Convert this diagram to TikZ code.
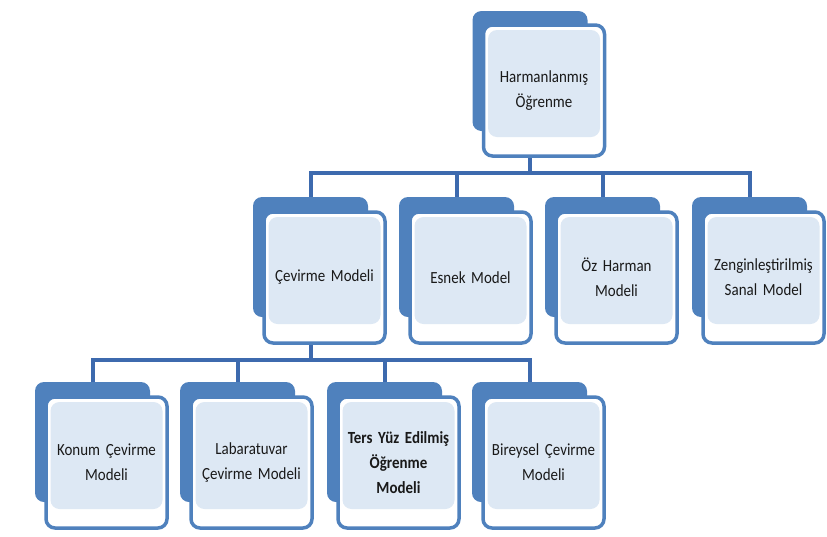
\documentclass[tikz,border=0pt]{standalone}
\usepackage{fontspec}
\setmainfont{Carlito}[FakeStretch=0.88, WordSpace=0.7]
\usetikzlibrary{calc}
\definecolor{bblue}{HTML}{4F81BD}
\definecolor{lblue}{HTML}{DDE8F4}
\definecolor{cblue}{HTML}{3D6AAE}
\tikzset{
  backbox/.style={fill=bblue, rounded corners=9pt, minimum width=115pt, minimum height=120pt, inner sep=0pt},
  frontbox/.style={draw=bblue, line width=3.5pt, fill=white, rounded corners=9pt,
    minimum width=121pt, minimum height=131pt, inner sep=2pt, align=center,
    text width=114pt, font=\fontsize{17}{25}\selectfont, text=black!90,
    path picture={\fill[lblue] ($(path picture bounding box.north west)+(4.5pt,-5pt)$) rectangle ($(path picture bounding box.south east)+(-4.5pt,19pt)$);}},
  conn/.style={draw=cblue, line width=4pt}
}
\begin{document}
\begin{tikzpicture}[x=1pt,y=-1pt]
\useasboundingbox (0,0) rectangle (827,536);
% back boxes
\node[backbox] (b0) at (530,71) {};
\node[backbox] (b1) at (310.5,257) {};
\node[backbox] (b2) at (456.5,257) {};
\node[backbox] (b3) at (602.5,257) {};
\node[backbox] (b4) at (749.5,257) {};
\node[backbox] (c1) at (92.5,442) {};
\node[backbox] (c2) at (237.5,442) {};
\node[backbox] (c3) at (384.5,442) {};
\node[backbox] (c4) at (529.5,442) {};
% connectors
\coordinate (busA) at (0,173);
\coordinate (busB) at (0,360);
\foreach \n in {b1,b2,b3,b4}{
  \draw[conn] (b0.south) -- (b0.south |- busA) -- (busA -| \n.north) -- (\n.north);
}
\foreach \n in {c1,c2,c3,c4}{
  \draw[conn] (b1.south) -- (b1.south |- busB) -- (busB -| \n.north) -- (\n.north);
}
% front boxes
\node[frontbox] (f0) at ($(b0)+(14,19.5)$) {Harmanlanmış\\Öğrenme};
\node[frontbox] (f1) at ($(b1)+(14,20.5)$) {Çevirme Modeli};
\node[frontbox] (f2) at ($(b2)+(14,20.5)$) {Esnek Model};
\node[frontbox] (f3) at ($(b3)+(14,20.5)$) {Öz Harman\\Modeli};
\node[frontbox] (f4) at ($(b4)+(14,20.5)$) {Zenginleştirilmiş\\Sanal Model};
\node[frontbox] (g1) at ($(c1)+(14,20.5)$) {Konum Çevirme\\Modeli};
\node[frontbox] (g2) at ($(c2)+(14,20.5)$) {Labaratuvar\\Çevirme Modeli};
\node[frontbox] (g3) at ($(c3)+(14,20.5)$) {\bfseries Ters Yüz Edilmiş\\\bfseries Öğrenme\\\bfseries Modeli};
\node[frontbox] (g4) at ($(c4)+(14,20.5)$) {Bireysel Çevirme\\Modeli};
\end{tikzpicture}
\end{document}
